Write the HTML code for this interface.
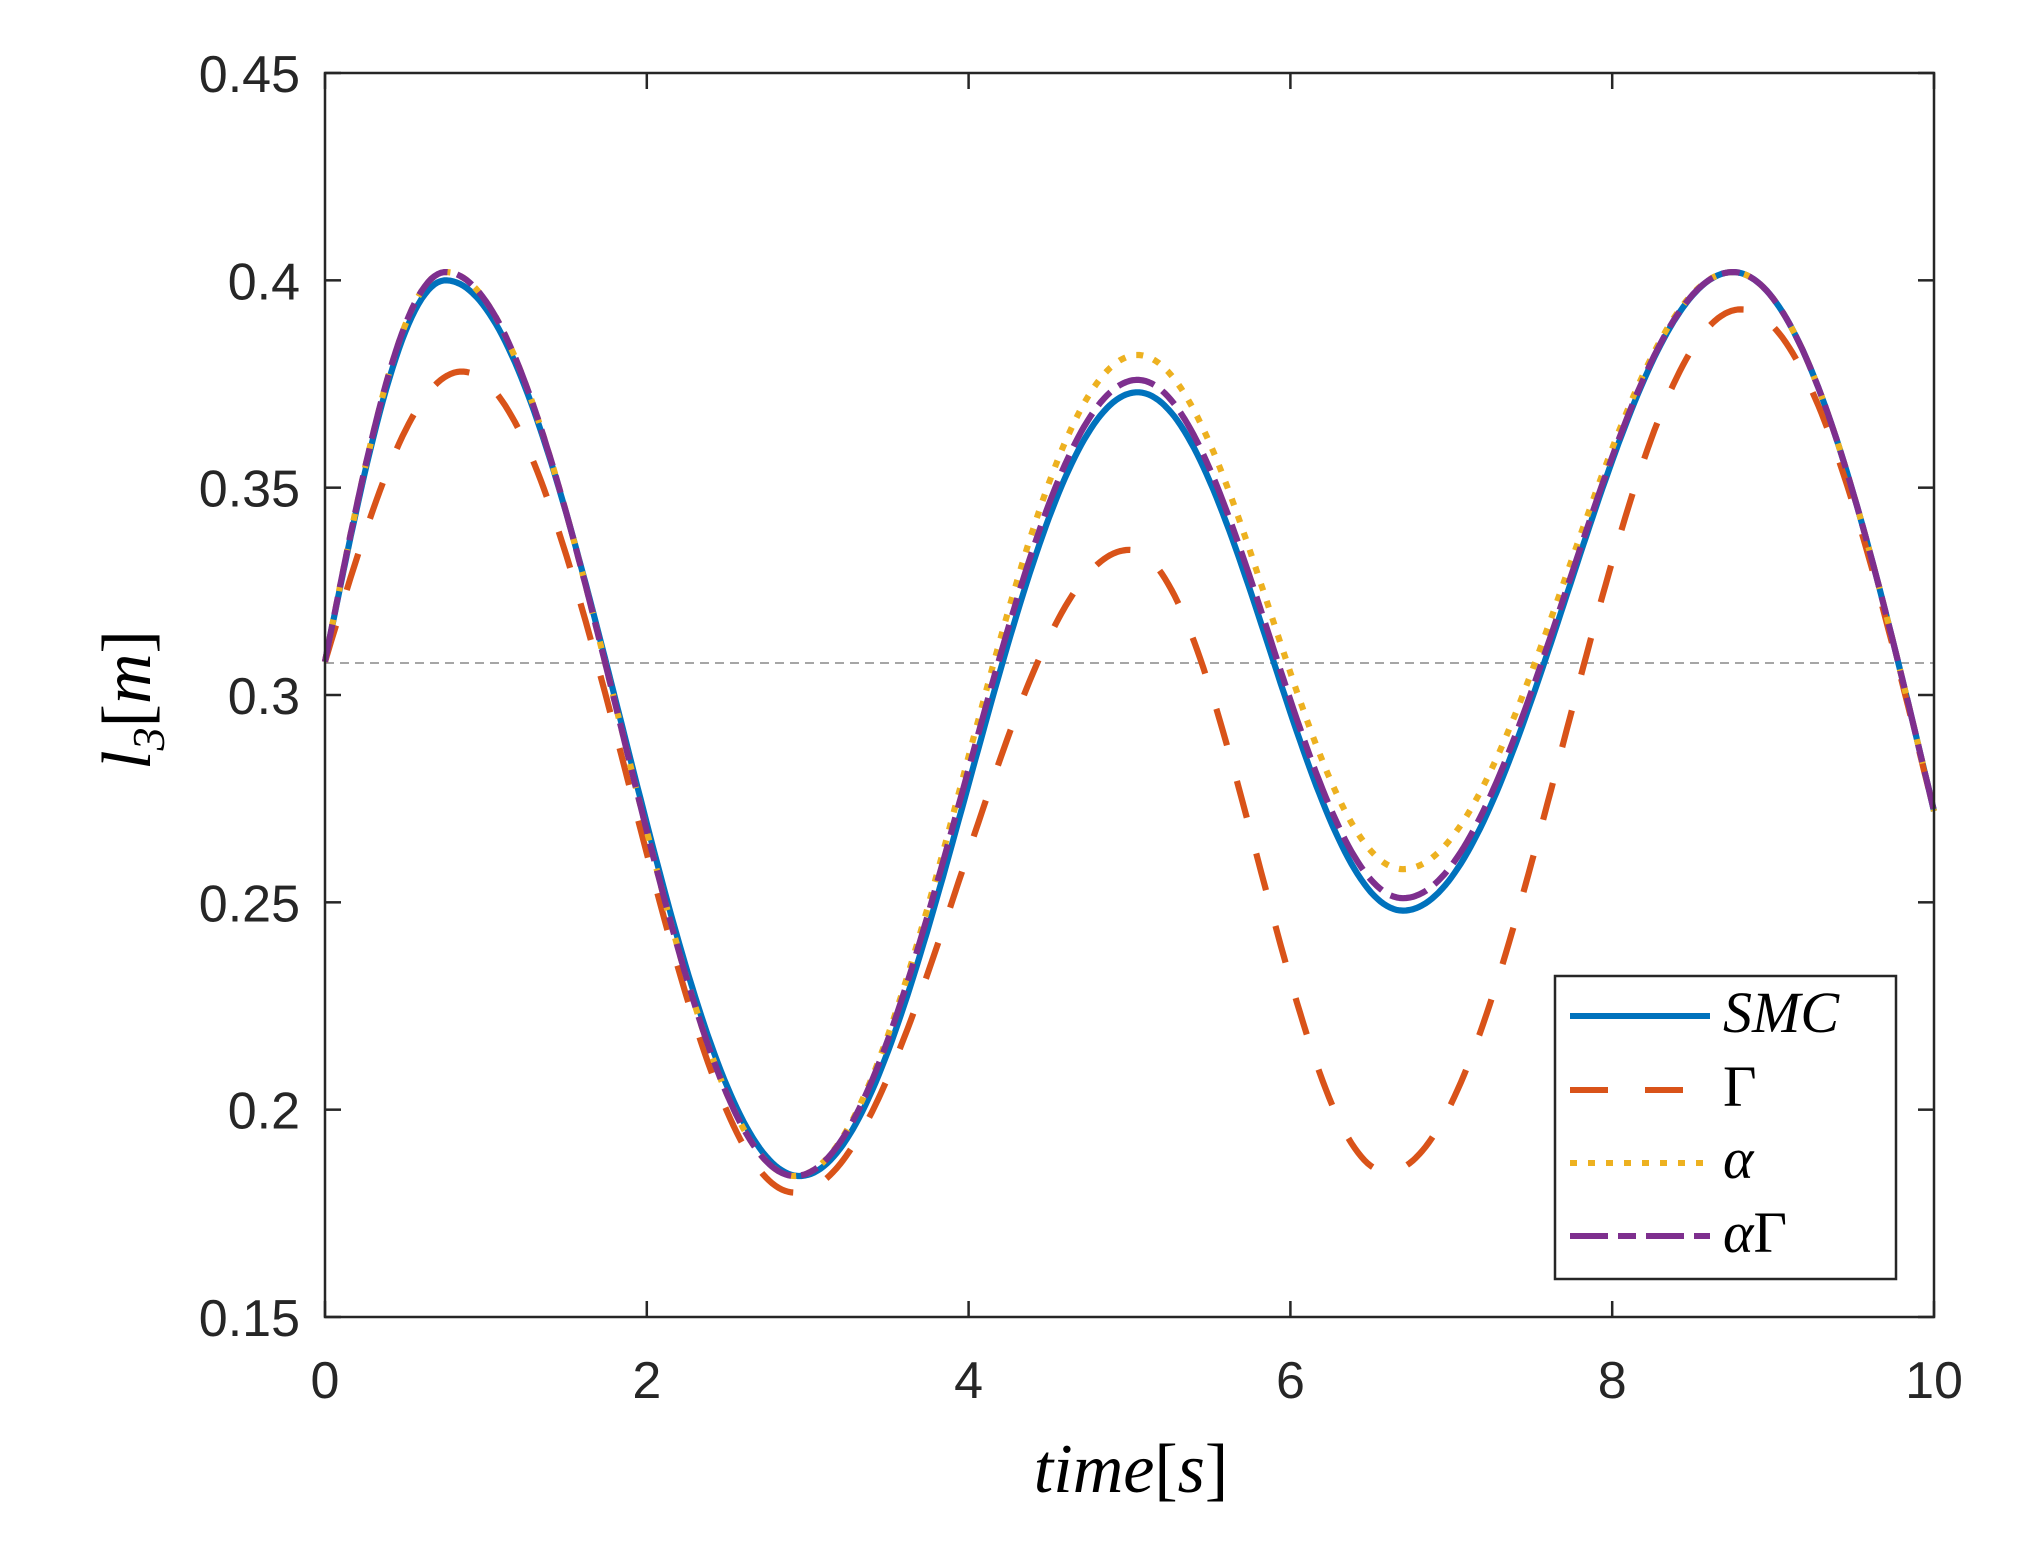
<!DOCTYPE html>
<html><head><meta charset="utf-8">
<style>
html,body{margin:0;padding:0;background:#fff;}
svg{display:block;}
text{font-family:"Liberation Sans",sans-serif;fill:#262626;}
.m{font-family:"Liberation Serif",serif;font-style:italic;fill:#000;}
.r{font-family:"Liberation Serif",serif;font-style:normal;fill:#000;}
</style></head>
<body>
<svg id="s" width="2040" height="1552" viewBox="0 0 2040 1552" xmlns="http://www.w3.org/2000/svg">
<rect width="2040" height="1552" fill="#fff"/>
<g id="ticks" stroke="#262626" stroke-width="2.5"></g>
<line x1="325" y1="663" x2="1934" y2="663" stroke="#999" stroke-width="1.8" stroke-dasharray="9,6"/>
<g id="curves" fill="none" stroke-width="6.2" stroke-linejoin="round"></g>
<rect x="325" y="73" width="1609" height="1244" fill="none" stroke="#262626" stroke-width="2.5"/>
<g id="labels" font-size="52"></g>
<text class="m" x="1131" y="1492" font-size="70" text-anchor="middle">time<tspan class="r">[</tspan>s<tspan class="r">]</tspan></text>
<g transform="translate(150,700) rotate(-90)">
<text class="m" x="0" y="0" font-size="70" text-anchor="middle">l<tspan font-size="46" dy="14">3</tspan><tspan class="r" dy="-14">[</tspan>m<tspan class="r">]</tspan></text>
</g>
<rect x="1555" y="976" width="341" height="303" fill="#fff" stroke="#262626" stroke-width="2.5"/>
<line x1="1570" y1="1016" x2="1710" y2="1016" stroke="#0072BD" stroke-width="6"/>
<line x1="1570" y1="1090" x2="1710" y2="1090" stroke="#D95319" stroke-width="6" stroke-dasharray="38,37"/>
<line x1="1570" y1="1163" x2="1710" y2="1163" stroke="#EDB120" stroke-width="6" stroke-dasharray="7,11"/>
<line x1="1570" y1="1236" x2="1710" y2="1236" stroke="#7E2F8E" stroke-width="6" stroke-dasharray="38,10,18,10"/>
<text class="m" x="1723" y="1032" font-size="58">SMC</text>
<text class="r" x="1723" y="1106" font-size="58">Γ</text>
<text class="m" x="1723" y="1178" font-size="58">α</text>
<text class="m" x="1723" y="1252" font-size="58">α<tspan class="r">Γ</tspan></text>
</svg>
<script>
var X0=325,W=1609,Y0=73,H=1244;
function px(t){return X0+t/10*W;}
function py(v){return Y0+(0.45-v)/0.3*H;}
var NS="http://www.w3.org/2000/svg";
function el(n,a,p,txt){var e=document.createElementNS(NS,n);for(var k in a)e.setAttribute(k,a[k]);if(txt!=null)e.textContent=txt;document.getElementById(p).appendChild(e);return e;}
for(var i=0;i<=5;i++){var x=px(i*2);
 el('line',{x1:x,y1:1317,x2:x,y2:1301},'ticks');el('line',{x1:x,y1:73,x2:x,y2:89},'ticks');
 el('text',{x:x,y:1398,'text-anchor':'middle'},'labels',String(i*2));}
var yl=['0.15','0.2','0.25','0.3','0.35','0.4','0.45'];
for(var i=0;i<7;i++){var v=0.15+i*0.05,y=py(v);
 el('line',{x1:325,y1:y,x2:341,y2:y},'ticks');el('line',{x1:1934,y1:y,x2:1918,y2:y},'ticks');
 el('text',{x:300,y:y+19,'text-anchor':'end'},'labels',yl[i]);}
function curve(k){
 var d='';
 for(var t=0;t<=10.0001;t+=0.02){
  var j=0;while(j<k.length-2&&t>k[j+1][0])j++;
  var a=k[j],b=k[j+1],u=(t-a[0])/(b[0]-a[0]);u=Math.max(0,Math.min(1,u));
  var s;
  if(j==0)s=Math.sin(u*Math.PI/2);
  else if(j==k.length-2)s=1-Math.cos(u*Math.PI/2);
  else s=(1-Math.cos(u*Math.PI))/2;
  var v=a[1]+(b[1]-a[1])*s;
  d+=(d?'L':'M')+px(t).toFixed(1)+','+py(v).toFixed(1);
 }
 return d;}
var S=[[0,0.308],[0.75,0.400],[2.95,0.184],[5.05,0.373],[6.7,0.248],[8.75,0.402],[10,0.272]];
var G=[[0,0.308],[0.85,0.378],[2.92,0.180],[5.0,0.335],[6.6,0.185],[8.8,0.393],[10,0.272]];
var A=[[0,0.308],[0.75,0.402],[2.92,0.184],[5.05,0.382],[6.7,0.258],[8.75,0.402],[10,0.272]];
var AG=[[0,0.308],[0.75,0.402],[2.92,0.184],[5.05,0.376],[6.7,0.251],[8.75,0.402],[10,0.272]];
el('path',{d:curve(S),stroke:'#0072BD'},'curves');
el('path',{d:curve(G),stroke:'#D95319','stroke-dasharray':'38,37'},'curves');
el('path',{d:curve(A),stroke:'#EDB120','stroke-dasharray':'7,11'},'curves');
el('path',{d:curve(AG),stroke:'#7E2F8E','stroke-dasharray':'38,10,18,10'},'curves');
</script>
</body></html>
